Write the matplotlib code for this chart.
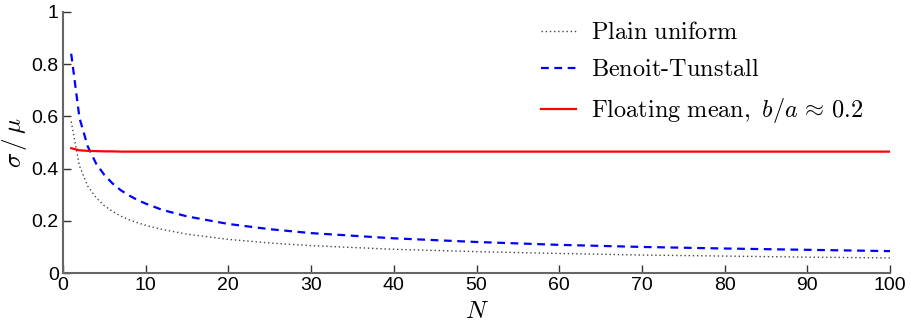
import matplotlib
matplotlib.use("Agg")
import matplotlib.pyplot as plt

plt.rcParams['font.family'] = ['Liberation Sans', 'DejaVu Sans']
plt.rcParams['mathtext.fontset'] = 'cm'

# values
n_vals = [1, 2, 3, 4, 5, 6, 7, 8, 9, 10, 12, 15, 20, 25, 30, 40, 50, 60, 70, 80, 90, 100]
plain = [0.58, 0.41, 0.333, 0.289, 0.258, 0.236, 0.218, 0.204, 0.193, 0.183, 0.167,
         0.149, 0.129, 0.115, 0.105, 0.091, 0.082, 0.075, 0.069, 0.065, 0.061, 0.058]
benoit = [0.84, 0.594, 0.485, 0.42, 0.376, 0.343, 0.317, 0.297, 0.28, 0.266, 0.242,
          0.217, 0.188, 0.168, 0.153, 0.133, 0.119, 0.108, 0.1, 0.094, 0.089, 0.084]
floating = [0.478, 0.47, 0.468, 0.467, 0.466, 0.466, 0.465, 0.465, 0.465, 0.465, 0.465,
            0.465, 0.465, 0.465, 0.465, 0.465, 0.465, 0.465, 0.465, 0.465, 0.465, 0.465]

fig = plt.figure(figsize=(9.12, 3.22), dpi=100)
ax = fig.add_axes([0.069, 0.152, 0.907, 0.811])

ax.plot(n_vals, plain, color='#444444', linestyle=(0, (1, 2)), linewidth=1.0,
        label=r'$\mathrm{Plain\ uniform}$')
ax.plot(n_vals, benoit, color='#0000ff', linestyle=(0, (3.5, 2.5)), linewidth=1.6,
        label=r'$\mathrm{Benoit\text{-}Tunstall}$')
ax.plot(n_vals, floating, color='#ff0000', linewidth=1.6,
        label=r'$\mathrm{Floating\ mean,}\ b/a \,\approx\, 0.2$')

ax.set_xlim(0, 100)
ax.set_ylim(0, 1)
ax.set_xticks(range(0, 101, 10))
ax.set_yticks([0, 0.2, 0.4, 0.6, 0.8, 1])
ax.set_yticklabels(['0', '0.2', '0.4', '0.6', '0.8', '1'])

for s in ['top', 'right']:
    ax.spines[s].set_visible(False)
for s in ['left', 'bottom']:
    ax.spines[s].set_color('#666666')
    ax.spines[s].set_linewidth(1.5)
ax.tick_params(direction='in', length=6, width=1.0, color='#333333', labelsize=14, pad=3)

ax.set_xlabel(r'$N$', fontsize=18)
ax.xaxis.set_label_coords(0.5, -0.1)
ax.set_ylabel(r'$\sigma\,/\,\mu$', fontsize=18, labelpad=2)

ax.legend(loc='upper right', frameon=False, fontsize=17.5, handlelength=1.45,
          labelspacing=0.62, handletextpad=0.6, bbox_to_anchor=(0.994, 1.045))

fig.savefig('out.png', dpi=100)
